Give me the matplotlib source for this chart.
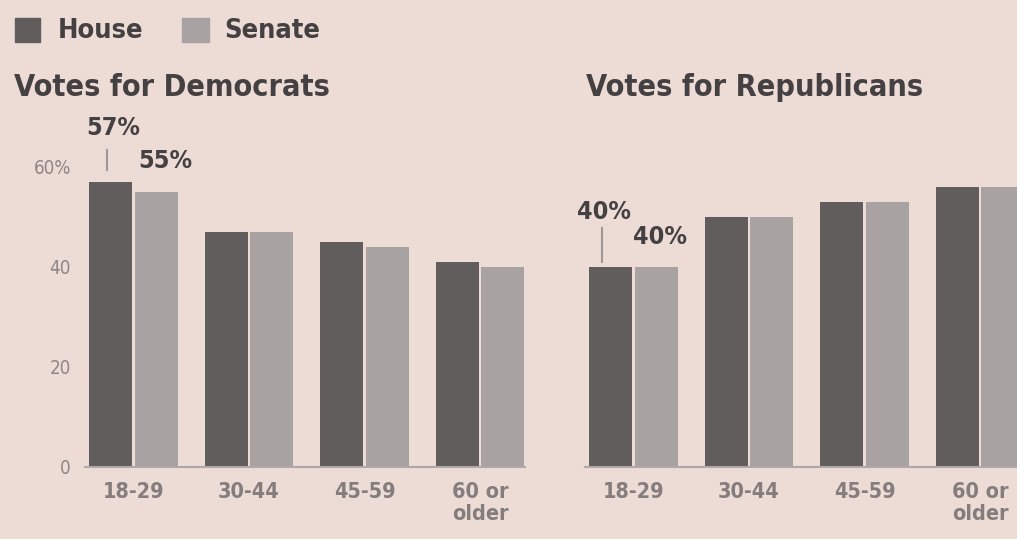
import numpy as np
import matplotlib
matplotlib.use('Agg')
import matplotlib.pyplot as plt
from matplotlib.patches import Rectangle

ages = ['18-29', '30-44', '45-59', '60 or\nolder']
dem_house = [57, 47, 45, 41]
dem_senate = [55, 47, 44, 40]
rep_house = [40, 50, 53, 56]
rep_senate = [40, 50, 53, 56]

bg = '#ecdcd5'
c_house = '#625d5d'
c_senate = '#a9a2a2'
c_text = '#454041'
c_tick = '#8f8585'
cond = dict(family='DejaVu Sans', fontstretch='condensed')

W, H = 1017, 539
fig = plt.figure(figsize=(W / 100, H / 100), dpi=100, facecolor=bg)


def px_axes(x0, x1, y_top, y_bot):
    return fig.add_axes([x0 / W, 1 - y_bot / H, (x1 - x0) / W, (y_bot - y_top) / H])


def draw_panel(ax, house, senate, title_x, title):
    x = np.arange(len(ages))
    w, off = 0.37, 0.197
    ax.set_facecolor('none')
    ax.bar(x - off, house, w, color=c_house, clip_on=False)
    ax.bar(x + off, senate, w, color=c_senate, clip_on=False)
    ax.set_xlim(-0.42, 3.39)
    ax.set_ylim(0, 60)
    for s in ['top', 'right', 'left']:
        ax.spines[s].set_visible(False)
    ax.spines['bottom'].set_color('#b0a8a8')
    ax.spines['bottom'].set_linewidth(1.5)
    ax.set_xticks(x)
    ax.set_xticklabels(ages, fontsize=15.5, fontweight='bold',
                       color='#857d7d', linespacing=1.1, **cond)
    ax.tick_params(axis='x', length=0, pad=11)
    fig.text(title_x / W, 1 - 87 / H, title, fontsize=22,
             fontweight='bold', color=c_text, va='center', ha='left', **cond)
    return x, off


ax1 = px_axes(85, 525, 167, 467)
x, off = draw_panel(ax1, dem_house, dem_senate, 14, 'Votes for Democrats')
ax1.set_yticks([0, 20, 40, 60])
ax1.set_yticklabels(['0', '20', '40', '60%'], fontsize=13.5, color=c_tick, **cond)
ax1.tick_params(axis='y', length=0, pad=10)

ax2 = px_axes(585, 1025, 167, 467)
draw_panel(ax2, rep_house, rep_senate, 586, 'Votes for Republicans')
ax2.set_yticks([])

# value callouts
lab = dict(fontsize=18, fontweight='bold', color=c_text, **cond)
ax1.plot([x[0] - off - 0.03] * 2, [59.5, 63.5], color='#a09898', lw=1.5, clip_on=False)
ax1.text(x[0] - off + 0.02, 67.8, f'{dem_house[0]}%', ha='center', va='center', **lab)
ax1.text(x[0] + 0.04, 61.2, f'{dem_senate[0]}%', ha='left', va='center', **lab)

ax2.plot([x[0] - off - 0.08] * 2, [41, 47.8], color='#a09898', lw=1.5, clip_on=False)
ax2.text(x[0] - off - 0.06, 51, f'{rep_house[0]}%', ha='center', va='center', **lab)
ax2.text(x[0] + off + 0.03, 46, f'{rep_senate[0]}%', ha='center', va='center', **lab)

# legend
fig.patches.append(Rectangle((15 / W, 1 - 42 / H), 25 / W, 24 / H, transform=fig.transFigure,
                             color=c_house, figure=fig))
fig.text(58 / W, 1 - 31 / H, 'House', fontsize=19.5, fontweight='bold',
         color=c_text, va='center', **cond)
fig.patches.append(Rectangle((182 / W, 1 - 42 / H), 27 / W, 24 / H, transform=fig.transFigure,
                             color=c_senate, figure=fig))
fig.text(224 / W, 1 - 31 / H, 'Senate', fontsize=19.5, fontweight='bold',
         color=c_text, va='center', **cond)

fig.savefig('out.png', dpi=100, facecolor=bg)
